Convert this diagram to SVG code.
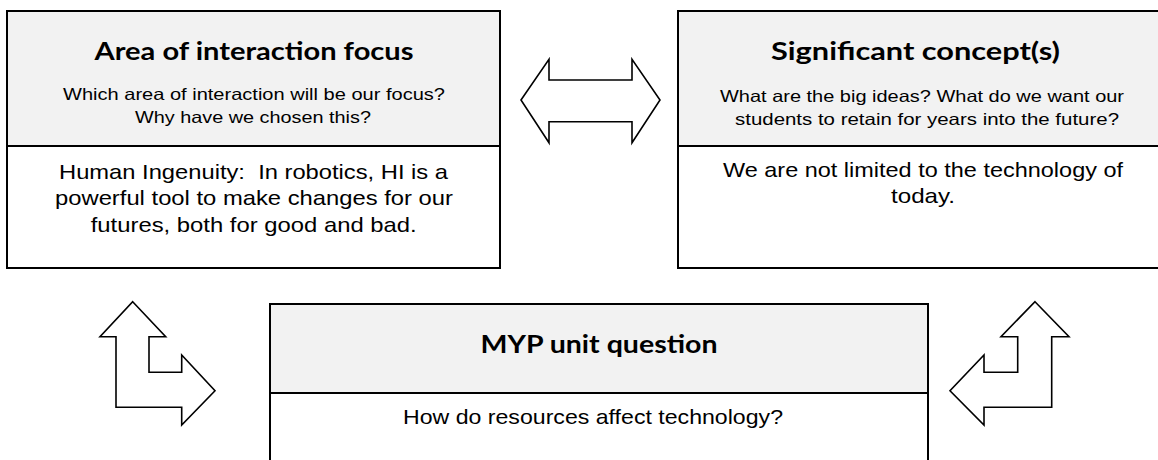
<svg xmlns="http://www.w3.org/2000/svg" width="1158" height="460" viewBox="0 0 1158 460">
<style>
.hdr{fill:#f2f2f2;stroke:#000;stroke-width:2}
.bdy{fill:#fff;stroke:#000;stroke-width:2}
.arr{fill:#fff;stroke:#000;stroke-width:1.6;stroke-linejoin:miter}
.ttl{font-family:Lato,"Open Sans",sans-serif;font-weight:bold;font-size:24px;fill:#000;text-anchor:middle}
.sub{font-family:"Liberation Sans",Arial,sans-serif;font-size:16.5px;fill:#000;text-anchor:middle}
.txt{font-family:"Liberation Sans",Arial,sans-serif;font-size:21px;fill:#000;text-anchor:middle}
</style>
<rect width="1158" height="460" fill="#fff"/>
<g id="node-area">
<rect class="bdy" x="7" y="146" width="493" height="122"/>
<rect class="hdr" x="7" y="11" width="493" height="135"/>
<text class="ttl" x="254" y="60" textLength="319" lengthAdjust="spacingAndGlyphs">Area of interaction focus</text>
<text class="sub" x="254" y="100" textLength="382" lengthAdjust="spacingAndGlyphs">Which area of interaction will be our focus?</text>
<text class="sub" x="253" y="123.3" textLength="236" lengthAdjust="spacingAndGlyphs">Why have we chosen this?</text>
<text class="txt" x="253.5" y="178.5" textLength="389" lengthAdjust="spacingAndGlyphs" xml:space="preserve">Human Ingenuity:  In robotics, HI is a</text>
<text class="txt" x="254" y="205" textLength="398" lengthAdjust="spacingAndGlyphs">powerful tool to make changes for our</text>
<text class="txt" x="253.7" y="231.7" textLength="326" lengthAdjust="spacingAndGlyphs">futures, both for good and bad.</text>
</g>
<g id="node-concept">
<rect class="bdy" x="678" y="146" width="492" height="122"/>
<rect class="hdr" x="678" y="11" width="492" height="135"/>
<text class="ttl" x="915.5" y="60" textLength="289" lengthAdjust="spacingAndGlyphs">Significant concept(s)</text>
<text class="sub" x="922" y="102" textLength="404" lengthAdjust="spacingAndGlyphs">What are the big ideas? What do we want our</text>
<text class="sub" x="927" y="125" textLength="384" lengthAdjust="spacingAndGlyphs">students to retain for years into the future?</text>
<text class="txt" x="923" y="176.7" textLength="400" lengthAdjust="spacingAndGlyphs">We are not limited to the technology of</text>
<text class="txt" x="923" y="203.3" textLength="64" lengthAdjust="spacingAndGlyphs">today.</text>
</g>
<g id="node-question">
<rect class="bdy" x="270" y="393" width="658" height="80"/>
<rect class="hdr" x="270" y="304" width="658" height="89"/>
<text class="ttl" x="599" y="353.3" textLength="237" lengthAdjust="spacingAndGlyphs">MYP unit question</text>
<text class="txt" x="593" y="424" textLength="380" lengthAdjust="spacingAndGlyphs">How do resources affect technology?</text>
</g>
<g id="connectors">
<polygon class="arr" points="521,100 549,59.3 549,80 632,80 632,59.3 660,100 632,142.7 632,121.7 549,121.7 549,142.7"/>
<polygon class="arr" points="132.7,301.7 165.7,336.7 149,336.7 149,372.3 181.7,372.3 181.7,355 215,390.7 181.7,425 181.7,407.3 116,407.3 116,336.7 100,336.7"/>
<polygon class="arr" points="1035,301.7 1069,336.7 1051.7,336.7 1051.7,407.3 984,407.3 984,425 950,390.7 984,355 984,372.3 1017.7,372.3 1017.7,336.7 1001,336.7"/>
</g>
</svg>
